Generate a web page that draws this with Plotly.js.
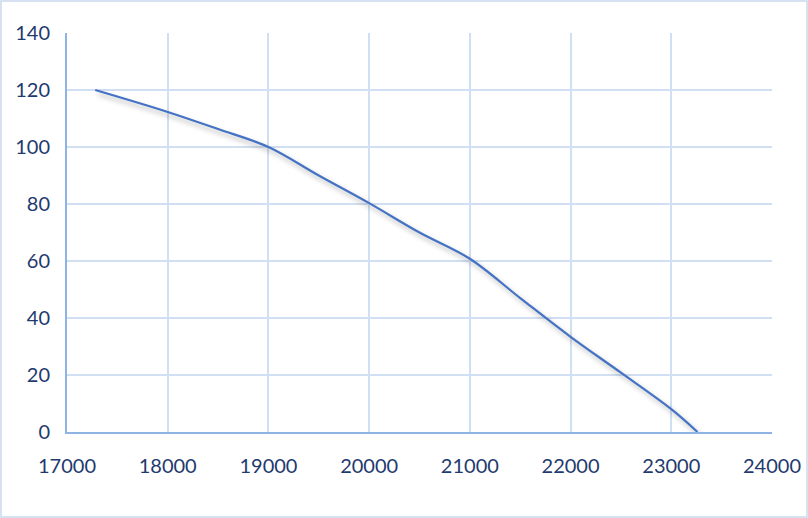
<!DOCTYPE html>
<html>
<head>
<meta charset="utf-8">
<script src="https://cdn.plot.ly/plotly-3.0.1.min.js"></script>
<style>
  html, body { margin: 0; padding: 0; background: #fff; }
  #chart { width: 804px; height: 514px; border: 2px solid #D6E2F2; }
</style>
</head>
<body>
<div id="chart"></div>
<script>
const xValues = [17280, 18000, 18500, 19000, 19500, 20000, 20500, 21000, 21500, 22000, 22500, 23000, 23260];
const yValues = [120, 112.3, 106.3, 100, 90, 80.3, 70, 60.8, 47, 33.4, 20.8, 8.0, 0];
const xTicks = [17000, 18000, 19000, 20000, 21000, 22000, 23000, 24000];
const yTicks = [0, 20, 40, 60, 80, 100, 120, 140];

const trace = {
  x: xValues,
  y: yValues,
  type: 'scatter',
  mode: 'lines',
  line: { color: '#4472C4', width: 2.2, shape: 'spline', smoothing: 1 },
  hoverinfo: 'skip'
};

const font = { family: 'Lato, "Open Sans", sans-serif', size: 20, color: '#1F3A6E' };

const layout = {
  width: 804,
  height: 514,
  margin: { l: 65, r: 34, t: 31, b: 84 },
  paper_bgcolor: '#ffffff',
  plot_bgcolor: '#ffffff',
  showlegend: false,
  font: font,
  xaxis: {
    range: [17000, 24000],
    tickvals: xTicks,
    ticktext: xTicks.map(String),
    showgrid: true,
    gridcolor: '#D0DFF2',
    gridwidth: 2,
    zeroline: false,
    showline: true,
    linecolor: '#8EB4E3',
    linewidth: 2,
    ticks: '',
    ticklabelstandoff: 15,
    tickfont: font,
    fixedrange: true
  },
  yaxis: {
    range: [0, 140],
    tickvals: yTicks,
    ticktext: yTicks.map(String),
    showgrid: true,
    gridcolor: '#D0DFF2',
    gridwidth: 2,
    zeroline: false,
    showline: true,
    linecolor: '#8EB4E3',
    linewidth: 2,
    ticks: '',
    ticklabelstandoff: 11,
    tickfont: font,
    fixedrange: true
  }
};

Plotly.newPlot('chart', [trace], layout, { displayModeBar: false, staticPlot: true }).then(function () {
  document.querySelectorAll('.scatterlayer .js-line').forEach(function (p) {
    p.style.filter = 'drop-shadow(3px 4px 2.5px rgba(0,0,0,0.3))';
  });
});
</script>
</body>
</html>
